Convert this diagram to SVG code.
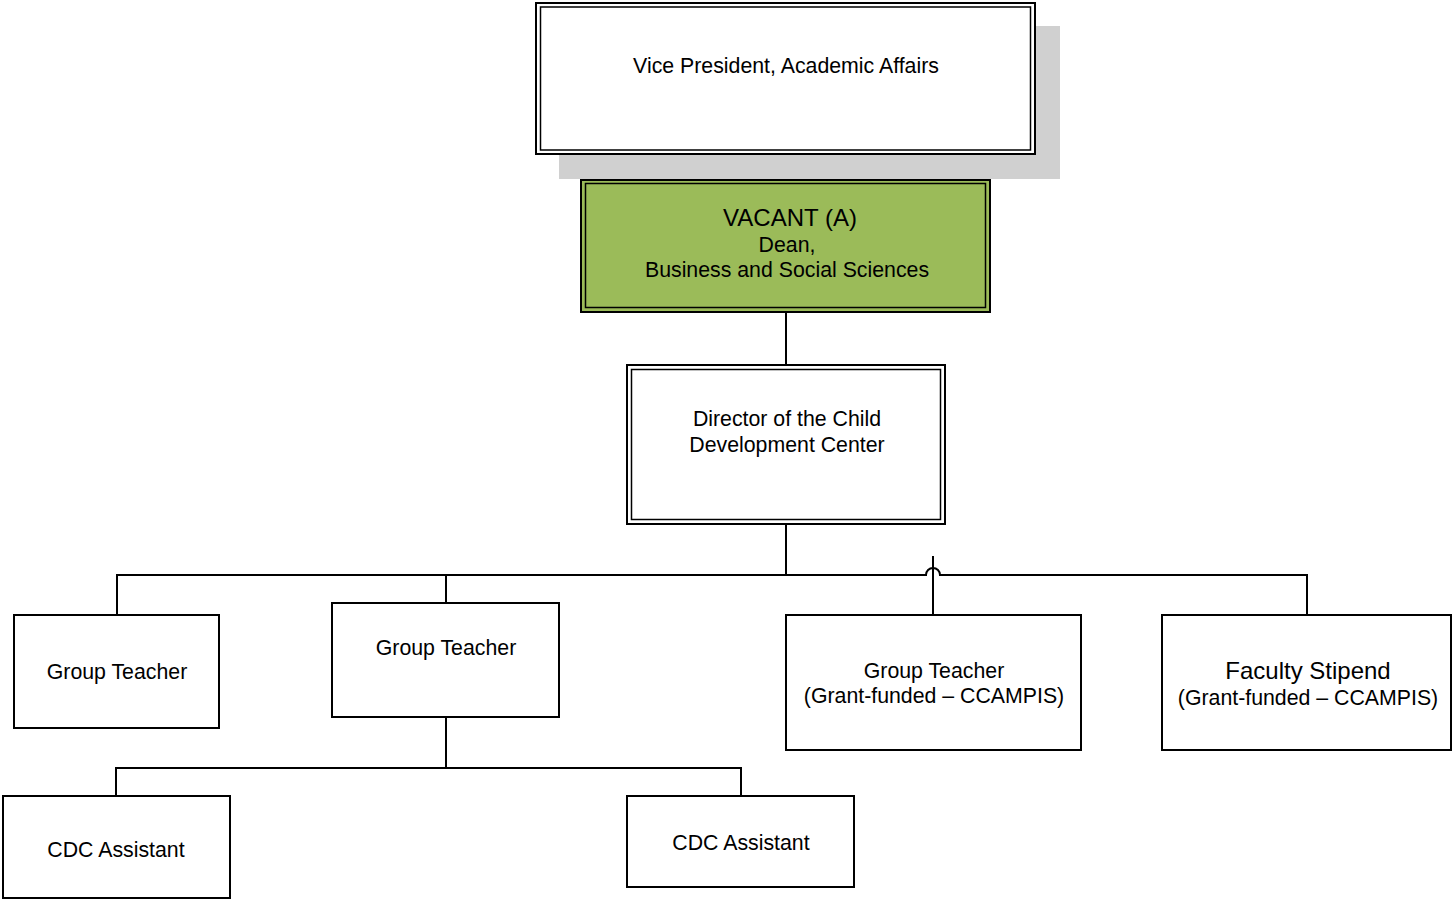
<svg xmlns="http://www.w3.org/2000/svg" width="1452" height="900" viewBox="0 0 1452 900">
<style>
.box{fill:#ffffff;stroke:#000;stroke-width:2}
.inner{fill:none;stroke:#000;stroke-width:1.5}
.t{font-family:"Liberation Sans",Arial,sans-serif;font-size:21.3px;fill:#000;text-anchor:middle}
.big{font-size:24px}
.conn{fill:none;stroke:#000;stroke-width:2}
</style>
<rect width="1452" height="900" fill="#fff"/>
<g id="connectors">
<path class="conn" d="M786 312 V365"/>
<path class="conn" d="M786 524 V575"/>
<path class="conn" d="M117 615 V575 H926 A7 7 0 0 1 940 575 H1307 V615"/>
<path class="conn" d="M446 575 V603"/>
<path class="conn" d="M933 556 V615"/>
<path class="conn" d="M446 717 V768"/>
<path class="conn" d="M116 796 V768 H741 V796"/>
</g>
<g id="vp">
<rect x="559" y="26" width="501" height="153" fill="#d0d0d0"/>
<rect class="box" x="536" y="3" width="499" height="151"/>
<rect class="inner" x="540.5" y="7" width="490" height="143"/>
<text class="t" x="786" y="73">Vice President, Academic Affairs</text>
</g>
<g id="dean">
<rect x="581" y="180" width="409" height="132" fill="#9bbb59" stroke="#000" stroke-width="2"/>
<rect class="inner" x="585.5" y="183.5" width="400" height="124"/>
<text class="t big" x="790" y="226">VACANT (A)</text>
<text class="t" x="787" y="252">Dean,</text>
<text class="t" x="787" y="277">Business and Social Sciences</text>
</g>
<g id="director">
<rect class="box" x="627" y="365" width="318" height="159"/>
<rect class="inner" x="631.5" y="369.5" width="309" height="150"/>
<text class="t" x="787" y="426">Director of the Child</text>
<text class="t" x="787" y="452">Development Center</text>
</g>
<g id="gt1">
<rect class="box" x="14" y="615" width="205" height="113"/>
<text class="t" x="117" y="679">Group Teacher</text>
</g>
<g id="gt2">
<rect class="box" x="332" y="603" width="227" height="114"/>
<text class="t" x="446" y="655">Group Teacher</text>
</g>
<g id="gt3">
<rect class="box" x="786" y="615" width="295" height="135"/>
<text class="t" x="934" y="678">Group Teacher</text>
<text class="t" x="934" y="703">(Grant-funded – CCAMPIS)</text>
</g>
<g id="faculty">
<rect class="box" x="1162" y="615" width="289" height="135"/>
<text class="t big" x="1308" y="679">Faculty Stipend</text>
<text class="t" x="1308" y="705">(Grant-funded – CCAMPIS)</text>
</g>
<g id="cdc1">
<rect class="box" x="3" y="796" width="227" height="102"/>
<text class="t" x="116" y="857">CDC Assistant</text>
</g>
<g id="cdc2">
<rect class="box" x="627" y="796" width="227" height="91"/>
<text class="t" x="741" y="850">CDC Assistant</text>
</g>
</svg>
